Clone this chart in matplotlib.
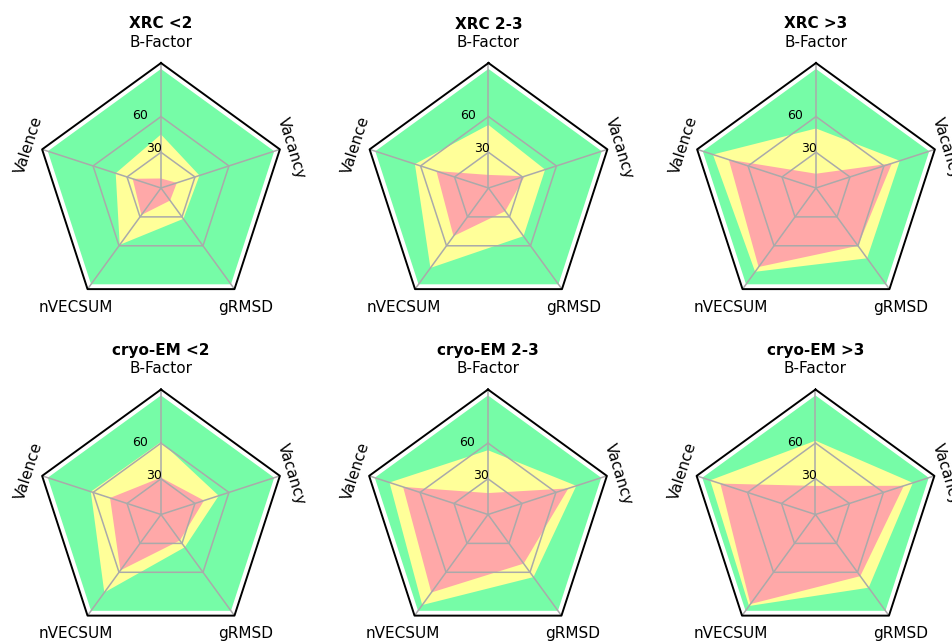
import numpy as np
import matplotlib
matplotlib.use('Agg')
import matplotlib.pyplot as plt

# radar axes, clockwise from the top
AXES = ['B-Factor', 'Vacancy', 'gRMSD', 'nVECSUM', 'Valence']
PANELS = ['XRC <2', 'XRC 2-3', 'XRC >3', 'cryo-EM <2', 'cryo-EM 2-3', 'cryo-EM >3']

# outer band is the full scale for every panel
GREEN = [100, 100, 100, 100, 100]

YELLOW = [
    [45, 34, 32, 59, 40],
    [53, 50, 50, 83, 65],
    [50, 74, 73, 87, 91],
    [61, 51, 34, 81, 62],
    [54, 78, 65, 94, 87],
    [62, 86, 76, 95, 93],
]

RED = [
    [8, 14, 13, 28, 25],
    [11, 32, 24, 50, 46],
    [12, 67, 60, 82, 77],
    [31, 38, 27, 58, 45],
    [18, 71, 51, 81, 75],
    [24, 78, 64, 93, 84],
]

RINGS = [30, 60]
RMAX = 105

COLORS = {
    'green': '#76FCA7',
    'yellow': '#FFFF99',
    'red': '#FFA8A8',
    'grid': '#AAAAAA',
}

# label placement (theta in degrees clockwise from top, radius in data units)
LABEL_POS = {
    'B-Factor': (0, 123.5, 0),
    'Vacancy': (73, 116, -73),
    'gRMSD': (144.2, 122, 0),
    'nVECSUM': (215.8, 122, 0),
    'Valence': (288, 118, 72),
}
RING_LABEL_POS = {30: (350.3, 33.5), 60: (344, 63.2)}

FIG_W, FIG_H = 953, 641
CENTERS = [(161, 188), (488.5, 188), (816, 188),
           (161, 514.5), (488, 514.5), (815.5, 514.5)]
R_PX = 125
TITLE_OFFSET = 164  # px above the centre

theta = np.deg2rad(np.arange(len(AXES)) * 360 / len(AXES))
theta_closed = np.append(theta, theta[0])


def closed(vals):
    vals = np.asarray(vals, dtype=float)
    return np.append(vals, vals[0])


fig = plt.figure(figsize=(FIG_W / 100, FIG_H / 100), dpi=100)

for name, (cx, cy), yel, red in zip(PANELS, CENTERS, YELLOW, RED):
    ax = fig.add_axes([(cx - R_PX) / FIG_W, (FIG_H - cy - R_PX) / FIG_H,
                       2 * R_PX / FIG_W, 2 * R_PX / FIG_H], projection='polar')
    ax.set_theta_zero_location('N')
    ax.set_theta_direction(-1)
    ax.set_ylim(0, RMAX)
    ax.grid(False)
    ax.set_xticks([])
    ax.set_yticks([])
    ax.spines['polar'].set_visible(False)
    ax.patch.set_visible(False)

    # filled bands
    ax.fill(theta_closed, closed(GREEN), color=COLORS['green'], lw=0, zorder=1)
    ax.fill(theta_closed, closed(yel), color=COLORS['yellow'], lw=0, zorder=2)
    ax.fill(theta_closed, closed(red), color=COLORS['red'], lw=0, zorder=3)

    # pentagon grid + spokes
    for r in RINGS:
        ax.plot(theta_closed, [r] * len(theta_closed), color=COLORS['grid'],
                lw=1.1, zorder=4)
    for t in theta:
        ax.plot([t, t], [0, RMAX], color=COLORS['grid'], lw=1.1, zorder=4)

    # outer frame
    ax.plot(theta_closed, [RMAX] * len(theta_closed), color='black', lw=1.4,
            zorder=5, clip_on=False)

    for r in RINGS:
        t, rr = RING_LABEL_POS[r]
        ax.text(np.deg2rad(t), rr, str(r), ha='center', va='center',
                fontsize=9, zorder=6)

    for lab in AXES:
        t, rr, rot = LABEL_POS[lab]
        ax.text(np.deg2rad(t), rr, lab, ha='center', va='center_baseline',
                rotation=rot, rotation_mode='anchor', fontsize=11)

    ax.text(0.5, 0.5 + TITLE_OFFSET / (2 * R_PX), name, transform=ax.transAxes,
            ha='center', va='center', fontsize=11, fontweight='bold')

fig.savefig('out.png', dpi=100)
